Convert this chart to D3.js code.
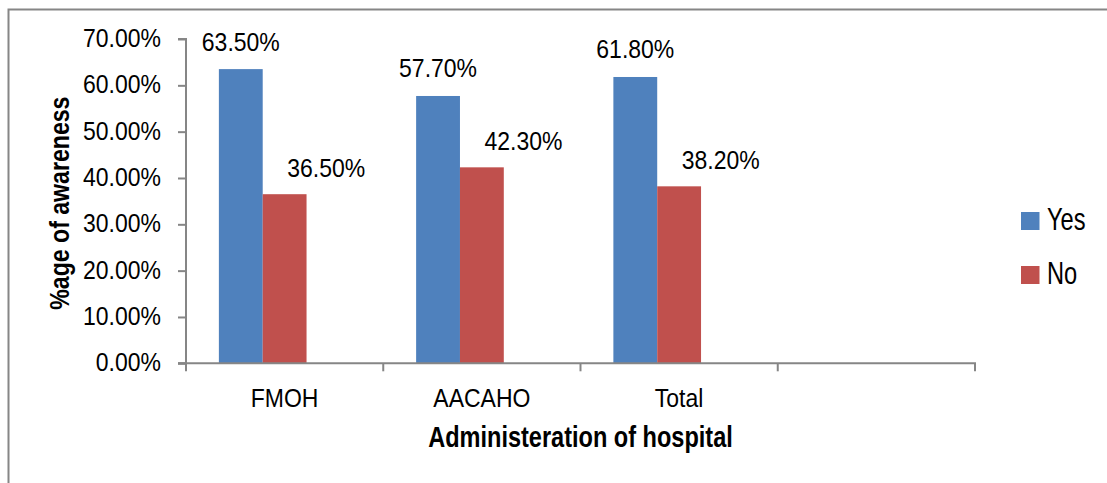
<!DOCTYPE html>
<html>
<head>
<meta charset="utf-8">
<script src="https://cdn.jsdelivr.net/npm/d3@7"></script>
<style>
  html, body { margin: 0; padding: 0; background: #fff; }
  svg { display: block; }
</style>
</head>
<body>
<svg id="chart" width="1107" height="483"></svg>
<script>
// Awareness by hospital administration
const categories = ["FMOH", "AACAHO", "Total", ""];
const seriesNames = ["Yes", "No"];
const yesValues = [63.5, 57.7, 61.8];
const noValues = [36.5, 42.3, 38.2];
const yTicks = [0, 10, 20, 30, 40, 50, 60, 70];
const yTitle = "%age of awareness";
const xTitle = "Administeration of hospital";

const colors = { Yes: "#4F81BD", No: "#C0504D" };
const axisColor = "#868686";
const font = "'Liberation Sans', Arial, sans-serif";

const svg = d3.select("#chart");
svg.append("rect").attr("width", 1107).attr("height", 483).attr("fill", "#fff");

// chart border (runs off the right and bottom edges)
svg.append("rect")
  .attr("x", 8.5).attr("y", 9.5)
  .attr("width", 1120).attr("height", 520)
  .attr("fill", "none").attr("stroke", axisColor).attr("stroke-width", 2);

const plot = { left: 186, right: 975, top: 39, bottom: 363.3 };

const x = d3.scaleBand().domain(categories).range([plot.left, plot.right]).paddingInner(0).paddingOuter(0);
// three slots per category (third one left empty), 150% gap between clusters
const xSub = d3.scaleBand().domain([...seriesNames, "_"]).range([0, x.bandwidth()]).paddingInner(0).paddingOuter(0.75);
const y = d3.scaleLinear().domain([0, 70]).range([plot.bottom, plot.top]);

// text helper: optional horizontal / vertical stretch and rotation
function label(g, str, px, py, opts) {
  const sx = opts.sx || 1, sy = opts.sy || 1;
  return g.append("text")
    .attr("transform", `translate(${px},${py}) scale(${sx},${sy})` + (opts.rotate ? ` rotate(${opts.rotate})` : ""))
    .attr("font-family", font)
    .attr("font-size", opts.size)
    .attr("font-weight", opts.weight || "normal")
    .attr("text-anchor", opts.anchor || "middle")
    .attr("fill", "#000")
    .text(str);
}

// bars
const rows = categories.slice(0, yesValues.length).map((c, i) => ({ cat: c, Yes: yesValues[i], No: noValues[i] }));
const groups = svg.append("g").selectAll("g").data(rows).join("g")
  .attr("transform", d => `translate(${x(d.cat)},0)`);
groups.selectAll("rect")
  .data(d => seriesNames.map(s => ({ s, v: d[s] })))
  .join("rect")
  .attr("x", d => xSub(d.s))
  .attr("width", xSub.bandwidth())
  .attr("y", d => y(d.v))
  .attr("height", d => y(0) - y(d.v))
  .attr("fill", d => colors[d.s]);

// y axis
const yAxis = d3.axisLeft(y).tickValues(yTicks).tickSize(8).tickFormat("");
const yg = svg.append("g").attr("transform", `translate(${plot.left},0)`).call(yAxis);
yg.selectAll("path, line").attr("stroke", axisColor).attr("stroke-width", 2);
yg.select(".domain").attr("d", `M-8,${y(70)}H0V${y(0)}H-8`);
const tickLabels = svg.append("g");
yTicks.forEach(t => {
  label(tickLabels, d3.format(".2f")(t) + "%", 161, y(t) + 8, { size: 23, sy: 1.1, anchor: "end" });
});

// x axis: tick marks at category boundaries
const xg = svg.append("g");
xg.append("line")
  .attr("x1", plot.left - 8).attr("x2", plot.right + 1)
  .attr("y1", y(0)).attr("y2", y(0))
  .attr("stroke", axisColor).attr("stroke-width", 2);
const bounds = categories.map(c => x(c)).concat([x(categories[categories.length - 1]) + x.bandwidth()]);
xg.selectAll("line.tick").data(bounds).join("line")
  .attr("class", "tick")
  .attr("x1", d => d).attr("x2", d => d)
  .attr("y1", y(0)).attr("y2", y(0) + 8)
  .attr("stroke", axisColor).attr("stroke-width", 2);
categories.forEach(c => {
  if (c) label(xg, c, x(c) + x.bandwidth() / 2, 406.5, { size: 23, sy: 1.1 });
});

// value labels
const vl = svg.append("g");
rows.forEach(r => {
  const bx = x(r.cat);
  label(vl, d3.format(".2f")(r.Yes) + "%", bx + xSub("Yes") + xSub.bandwidth() / 2, y(r.Yes) - 18.5, { size: 23, sy: 1.1 });
  label(vl, d3.format(".2f")(r.No) + "%", bx + xSub("No") + xSub.bandwidth() * 1.45, y(r.No) - 17.5, { size: 23, sy: 1.1 });
});

// axis titles (condensed bold)
label(svg, xTitle, (plot.left + plot.right) / 2, 447, { size: 28.5, weight: "bold", sx: 0.826, sy: 1.03 });
label(svg, yTitle, 69, (plot.top + plot.bottom) / 2 + 2, { size: 28, weight: "bold", sy: 0.826, rotate: -90 });

// legend
const lg = svg.append("g");
seriesNames.forEach((s, i) => {
  const ly = 212 + i * 54;
  lg.append("rect").attr("x", 1021).attr("y", ly).attr("width", 18.5).attr("height", 18).attr("fill", colors[s]);
  label(lg, s, 1047, ly + 17.5, { size: 28.5, anchor: "start", sx: 0.83, sy: 1.1 });
});
</script>
</body>
</html>
